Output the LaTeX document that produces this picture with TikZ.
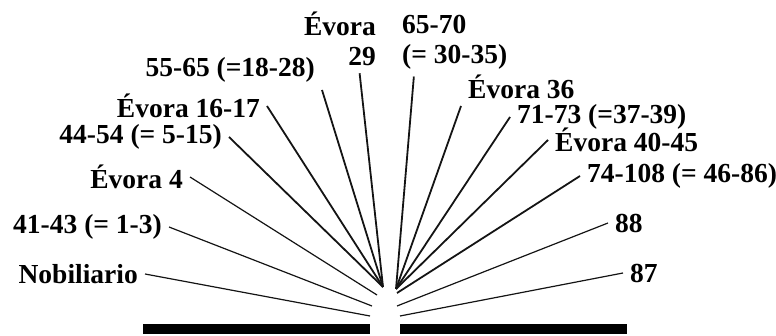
\documentclass[tikz,border=0pt]{standalone}
\usepackage{fontspec}
\setmainfont{Liberation Serif}
\usepackage{tikz}
\usetikzlibrary{calc,positioning}
\definecolor{spokeGray}{RGB}{20,20,20}
\tikzset{
  lbl/.style={font=\fontsize{27.5}{30}\selectfont\bfseries, inner sep=7pt},
  spoke/.style={spokeGray, line width=1.8pt},
  thinspoke/.style={spokeGray, line width=1.2pt}
}
\begin{document}
\begin{tikzpicture}[x=1pt,y=-1pt]
\useasboundingbox (0,0) rectangle (776,336);
% labels, left side
\node[lbl, anchor=east] (nob) at (145,274) {Nobiliario};
\node[lbl, anchor=east] (n4143) at (169,227) {41-43 (= 1-3)};
\node[lbl, anchor=east] (ev4) at (190,177) {Évora 4};
\node[lbl, anchor=east] (n4454) at (229,137) {44-54 (= 5-15)};
\node[lbl, anchor=east] (ev1617) at (267,106) {Évora 16-17};
\node[lbl, anchor=south east] (n5565) at (322,90) {55-65 (=18-28)};
\node[lbl, align=right, anchor=north east] (ev29) at (383,5) {Évora\\29};
% labels, right side
\node[lbl, align=left, anchor=north west] (n6570) at (395,8) {65-70\\(= 30-35)};
\node[lbl, anchor=south west] (ev36) at (461,106) {Évora 36};
\node[lbl, anchor=west] (n7173) at (510,117) {71-73 (=37-39)};
\node[lbl, anchor=west] (ev4045) at (548,140) {Évora 40-45};
\node[lbl, anchor=west] (n74108) at (580,176) {74-108 (= 46-86)};
\node[lbl, anchor=west] (n88) at (608,223) {88};
\node[lbl, anchor=west] (n87) at (623,273) {87};
% where the spokes meet
\coordinate (eNob) at (370,316);
\coordinate (e4143) at (372,306);
\coordinate (eEv4) at (377,295);
\coordinate (hubL) at (383,287);
\coordinate (hubR) at (396,289);
\coordinate (e74108) at (397,293);
\coordinate (e88) at (397,306);
\coordinate (e87) at (400,316);
% spokes
\draw[thinspoke] (nob.east) -- (eNob);
\draw[thinspoke] (n4143.east) -- (e4143);
\draw[thinspoke] (ev4.east) -- (eEv4);
\draw[spoke] (n4454.east) -- (hubL);
\draw[spoke] (ev1617.east) -- (hubL);
\draw[spoke] (n5565.south east) -- (hubL);
\draw[spoke] (ev29.-60) -- (hubL);
\draw[spoke] (n6570.-140) -- (hubR);
\draw[spoke] (ev36.south west) -- (hubR);
\draw[spoke] (n7173.west) -- (hubR);
\draw[spoke] (ev4045.west) -- (hubR);
\draw[spoke] (n74108.west) -- (e74108);
\draw[thinspoke] (n88.west) -- (e88);
\draw[thinspoke] (n87.west) -- (e87);
% base bars
\fill (143,324) rectangle (370,334);
\fill (400,324) rectangle (627,334);
\end{tikzpicture}
\end{document}
